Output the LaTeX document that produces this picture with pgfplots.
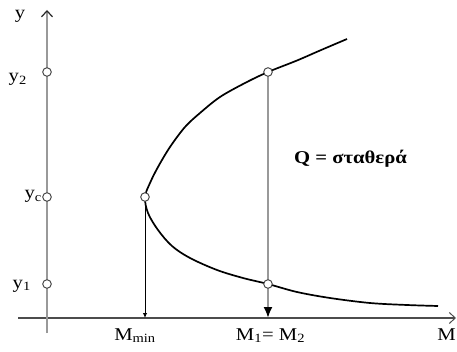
\documentclass[border=0pt]{standalone}
\usepackage{pgfplots}
\pgfplotsset{compat=1.18}
\usetikzlibrary{arrows.meta}
\usepackage{fontspec}
\setmainfont{Liberation Serif}
\newfontfamily\lblfont[FakeStretch=1.15]{Liberation Serif}

\tikzset{lbl/.style={font=\lblfont\fontsize{18}{20}\selectfont, inner sep=0pt}}

\begin{document}
\begin{tikzpicture}
\begin{axis}[
  scale only axis, width=457pt, height=351pt,
  xmin=0, xmax=457, ymin=0, ymax=351,
  axis lines=none, clip=false,
]
\coordinate (bl) at (axis cs:0,0);
\coordinate (tr) at (axis cs:457,351);
% M axis
\addplot[color=black!70, line width=1.1pt, -{Straight Barb[length=6pt,width=11pt,line width=1pt]}]
  coordinates {(18,33) (456,33)};
% y axis
\addplot[color=black!40, line width=2.6pt, -{Straight Barb[length=6pt,width=11pt,line width=1.2pt,color=black!85]}]
  coordinates {(47,18) (47,341)};
% drop line to the minimum of M
\addplot[black, line width=0.9pt, -{Latex[length=5pt,width=4.5pt]}]
  coordinates {(145,154) (145,33)};
% drop line at M1 = M2
\addplot[color=black!40, line width=2pt, -{Latex[length=11pt,width=9pt,color=black]}]
  coordinates {(268,279) (268,33)};
% specific force curve, Q constant
\addplot[black, line width=1.7pt, smooth, tension=0.55] coordinates {
  (347,312) (320,300.5) (297,290.5) (268,279) (245,268) (220,254) (200,238)
  (185,224) (170,204) (158,184) (150,168) (145,154)
  (148,138) (158,121) (172,105) (190,93) (217,81) (243,73) (268,67)
  (297,59) (330,53) (370,48) (407,46) (438,45)
};
% depths marked on the curve and on the y axis
\addplot[only marks, mark=*, mark size=4.3pt,
  mark options={fill=white, draw=black!70, line width=1pt}]
  coordinates {(47,279) (47,154) (47,67) (145,154) (268,279) (268,67)};

\node[lbl, anchor=base] at (axis cs:20,332) {y};
\node[lbl, anchor=base east] at (axis cs:27,269) {y\textsubscript{2}};
\node[lbl, anchor=base east] at (axis cs:42,152) {y\textsubscript{c}};
\node[lbl, anchor=base east] at (axis cs:31,63) {y\textsubscript{1}};
\node[lbl, anchor=base] at (axis cs:135,11) {M\textsubscript{min}};
\node[lbl, anchor=base] at (axis cs:270.5,11) {M\textsubscript{1}= M\textsubscript{2}};
\node[lbl, anchor=base] at (axis cs:446.5,11) {M};
\node[lbl, anchor=base] at (axis cs:350.5,187) {\bfseries Q = σταθερά};
\end{axis}
\pgfresetboundingbox
\path (bl) rectangle (tr);
\end{tikzpicture}
\end{document}
